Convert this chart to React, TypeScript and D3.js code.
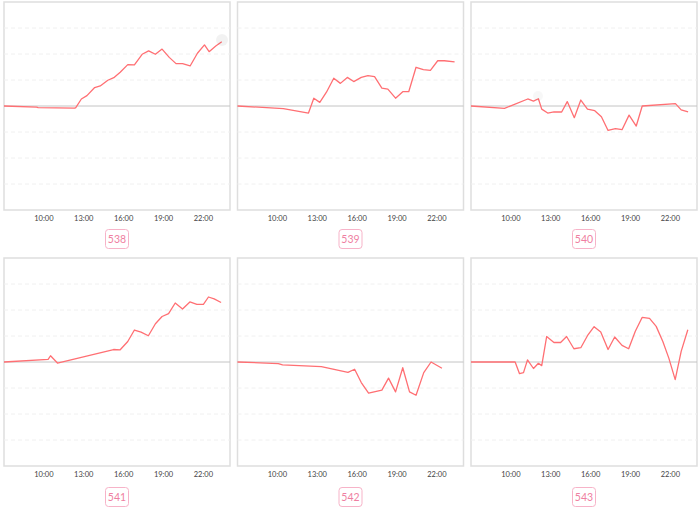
import React from "react";
import * as d3 from "d3";

const panelIds = ["538", "539", "540", "541", "542", "543"];
const tickHours = [10, 13, 16, 19, 22];
const tickLabels = ["10:00", "13:00", "16:00", "19:00", "22:00"];

const hours538 = [7, 9.45, 9.57, 12.32, 12.4, 12.82, 13.24, 13.82, 14.24, 14.81, 15.26, 15.74, 16.31, 16.81, 17.39, 17.88, 18.39, 18.89, 19.43, 19.94, 20.43, 21.0, 21.55, 22.08, 22.43, 22.93, 23.38];
const values538 = [0, -0.04, -0.06, -0.08, -0.06, 0.27, 0.4, 0.71, 0.77, 0.99, 1.09, 1.3, 1.59, 1.58, 1.99, 2.12, 1.99, 2.19, 1.87, 1.63, 1.63, 1.54, 2.03, 2.35, 2.09, 2.31, 2.47];

const hours539 = [7, 10.45, 12.34, 12.74, 13.19, 13.69, 14.24, 14.74, 15.26, 15.74, 16.31, 16.81, 17.31, 17.86, 18.31, 18.89, 19.43, 19.88, 20.43, 20.98, 21.51, 22.06, 22.56, 23.33];
const values539 = [0, -0.1, -0.27, 0.3, 0.14, 0.53, 1.07, 0.87, 1.1, 0.94, 1.1, 1.17, 1.13, 0.69, 0.65, 0.3, 0.55, 0.55, 1.49, 1.4, 1.37, 1.74, 1.74, 1.7];

const hours540 = [7, 9.52, 11.27, 11.7, 12.07, 12.32, 12.77, 13.24, 13.82, 14.24, 14.77, 15.26, 15.76, 16.31, 16.81, 17.31, 17.86, 18.36, 18.89, 19.43, 19.88, 22.38, 22.81, 23.33];
const values540 = [0, -0.09, 0.27, 0.19, 0.28, -0.12, -0.27, -0.23, -0.23, 0.17, -0.45, 0.23, -0.12, -0.18, -0.41, -0.94, -0.87, -0.91, -0.35, -0.77, 0, 0.09, -0.15, -0.23];

const hours541 = [7, 10.32, 10.5, 11.02, 15.24, 15.74, 16.31, 16.81, 17.31, 17.86, 18.39, 18.89, 19.38, 19.88, 20.43, 20.98, 21.51, 22.0, 22.38, 22.81, 23.33];
const values541 = [0, 0.1, 0.24, -0.04, 0.48, 0.47, 0.79, 1.23, 1.15, 1.01, 1.47, 1.75, 1.86, 2.27, 2.04, 2.31, 2.22, 2.22, 2.5, 2.43, 2.29];

const hours542 = [7, 10.07, 10.39, 13.31, 15.31, 15.81, 16.31, 16.86, 17.86, 18.36, 18.89, 19.43, 19.94, 20.43, 21.01, 21.56, 22.38];
const values542 = [0, -0.06, -0.11, -0.18, -0.4, -0.28, -0.79, -1.2, -1.08, -0.62, -1.15, -0.22, -1.15, -1.28, -0.41, 0, -0.24];

const hours543 = [7, 10.32, 10.65, 10.95, 11.25, 11.7, 12.07, 12.32, 12.69, 13.24, 13.74, 14.19, 14.74, 15.26, 15.76, 16.26, 16.76, 17.31, 17.81, 18.36, 18.86, 19.36, 19.88, 20.43, 20.93, 21.43, 21.88, 22.36, 22.81, 23.31];
const values543 = [0, 0, -0.45, -0.41, 0.08, -0.25, -0.05, -0.14, 0.98, 0.75, 0.75, 0.98, 0.51, 0.55, 1.01, 1.36, 1.15, 0.48, 0.96, 0.64, 0.51, 1.18, 1.72, 1.68, 1.37, 0.79, 0.15, -0.68, 0.41, 1.24];

const seriesHours = [hours538, hours539, hours540, hours541, hours542, hours543];
const seriesValues = [values538, values539, values540, values541, values542, values543];

const gridLevels = [-3, -2, -1, 1, 2, 3];

const LINE = "#ff6f73";

function Panel({ idx }: { idx: number }) {
  const col = idx % 3;
  const row = Math.floor(idx / 3);
  const left = 4 + col * 233.5;
  const width = 226;
  const top = 2 + row * 256;
  const height = 208;
  const x = d3.scaleLinear().domain([7, 24]).range([left, left + width]);
  const y = d3.scaleLinear().domain([-4, 4]).range([top + height, top]);
  const pts = seriesHours[idx].map((h, i) => [h, seriesValues[idx][i]] as [number, number]);
  const line = d3
    .line<[number, number]>()
    .x((d) => x(d[0]))
    .y((d) => y(d[1]));
  const cx = left + width / 2;
  const labelY = row === 0 ? 239 : 497;
  return (
    <g>
      <rect x={left} y={top} width={width} height={height} fill="#fff" stroke="#dedede" strokeWidth={1.5} />
      {gridLevels.map((g) => (
        <line key={g} x1={left} x2={left + width} y1={y(g)} y2={y(g)} stroke="#f0f0f0" strokeWidth={1} strokeDasharray="4,3" />
      ))}
      <line x1={left} x2={left + width} y1={y(0)} y2={y(0)} stroke="#c4c4c4" strokeWidth={1} />
      <path d={line(pts) || ""} fill="none" stroke={LINE} strokeWidth={1.3} strokeLinejoin="round" />
      {tickHours.map((h, i) => (
        <text key={h} x={x(h)} y={top + height + 11} textAnchor="middle" fontSize={7.5} fill="#444" fontFamily="Lato, sans-serif">
          {tickLabels[i]}
        </text>
      ))}
      <rect x={cx - 11.5} y={labelY - 9.5} width={23} height={19} rx={3} fill="#fff" stroke="#f7b3c8" strokeWidth={1} />
      <text x={cx} y={labelY + 3.8} textAnchor="middle" fontSize={10.5} fill="#ef7fa2" fontFamily="Lato, sans-serif">
        {panelIds[idx]}
      </text>
    </g>
  );
}

export default function App() {
  return (
    <svg width={700} height={510} style={{ position: "absolute", left: 0, top: 0, background: "#fff" }}>
      <rect x={0} y={0} width={700} height={510} fill="#fff" />
      {panelIds.map((_, i) => (
        <Panel key={i} idx={i} />
      ))}
      <circle cx={222} cy={40} r={6} fill="#000" fillOpacity={0.05} />
      <circle cx={538} cy={96} r={5} fill="#000" fillOpacity={0.03} />
    </svg>
  );
}
